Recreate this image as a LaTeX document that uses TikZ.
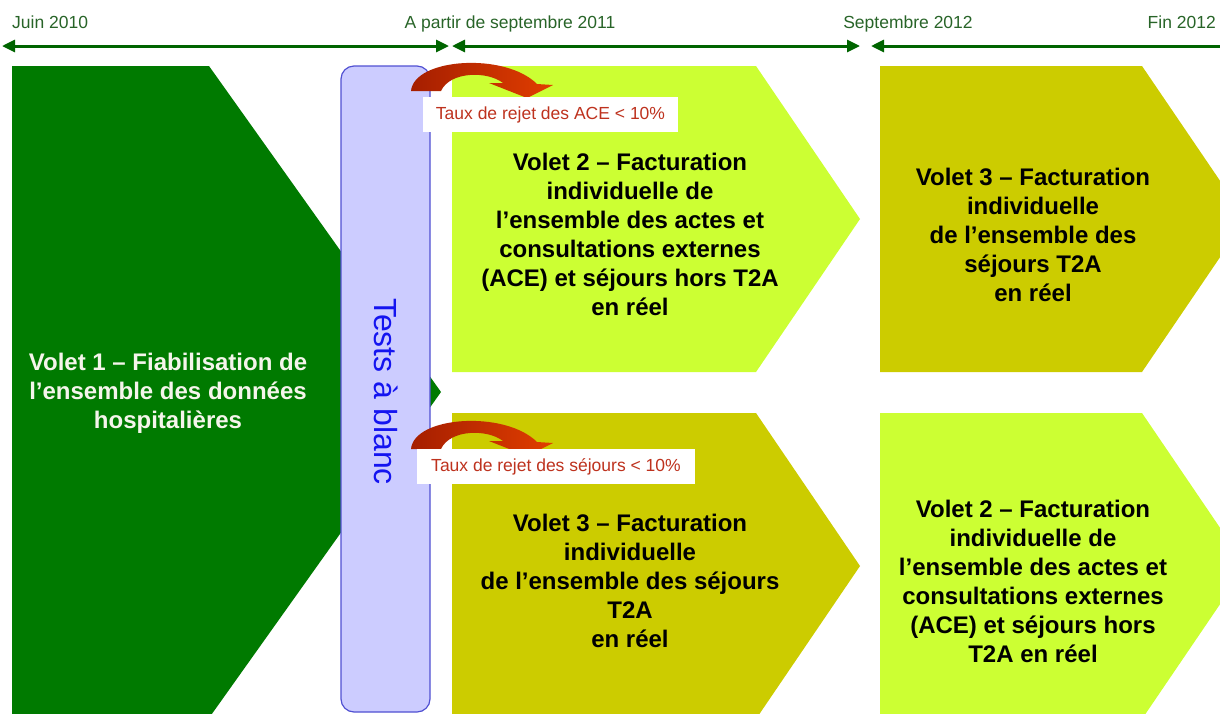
\documentclass[tikz,border=0pt]{standalone}
\usepackage{fontspec}
\setmainfont{Liberation Sans}
\usetikzlibrary{arrows.meta}
\definecolor{vgreen}{RGB}{0,122,0}
\definecolor{lgreen}{RGB}{204,255,51}
\definecolor{olivec}{RGB}{204,204,0}
\definecolor{testfill}{RGB}{204,204,255}
\definecolor{testdraw}{RGB}{80,80,210}
\definecolor{testtext}{RGB}{20,20,240}
\definecolor{tlgreen}{RGB}{0,100,0}
\definecolor{tltext}{RGB}{40,100,40}
\definecolor{rejtext}{RGB}{190,50,30}
\definecolor{arrdark}{RGB}{165,30,0}
\definecolor{arrlight}{RGB}{225,62,0}
\definecolor{v1text}{RGB}{245,245,235}
\begin{document}
\begin{tikzpicture}[x=1pt,y=-1pt,
  tl/.style={draw=tlgreen, line width=3pt, {Triangle[length=13pt,width=12pt]}-{Triangle[length=13pt,width=12pt]}},
  tllabel/.style={text=tltext, font=\fontsize{17.5}{20}\selectfont, inner sep=0pt},
  volet/.style={align=center, font=\fontsize{24}{29}\selectfont\bfseries, inner sep=0pt},
  rej/.style={fill=white, text=rejtext, font=\fontsize{17.5}{20}\selectfont, inner sep=0pt, minimum height=35pt},
  curvarr/.style={left color=arrdark, right color=arrlight, draw=none},
  testbox/.style={draw=testdraw, fill=testfill, rounded corners=13pt, line width=1.2pt}
]
\useasboundingbox (0,0) rectangle (1220,713);
\clip (0,0) rectangle (1220,713);

% timeline
\coordinate (t0) at (2,46);
\coordinate (t1) at (449,46);
\coordinate (t2) at (452,46);
\coordinate (t3) at (860,46);
\coordinate (t4) at (871,46);
\coordinate (t5) at (1233,46);
\draw[tl] (t0) -- (t1);
\draw[tl] (t2) -- (t3);
\draw[tl] (t4) -- (t5);
\node[tllabel, anchor=base west] (lj) at (12,28) {Juin 2010};
\node[tllabel, anchor=base] (la) at (510,28) {A partir de septembre 2011};
\node[tllabel, anchor=base] (ls) at (908,28) {Septembre 2012};
\node[tllabel, anchor=base east] (lf) at (1216,28) {Fin 2012};

% chevrons
\fill[vgreen] (12,66) -- (209,66) -- (441,392) -- (209,718) -- (12,718) -- cycle;
\fill[lgreen] (452,66) -- (756,66) -- (860,219) -- (756,372) -- (452,372) -- cycle;
\fill[olivec] (880,66) -- (1142,66) -- (1246,219) -- (1142,372) -- (880,372) -- cycle;
\fill[olivec] (452,413) -- (756,413) -- (860,566) -- (756,719) -- (452,719) -- cycle;
\fill[lgreen] (880,413) -- (1142,413) -- (1246,566) -- (1142,719) -- (880,719) -- cycle;

% tests box
\draw[testbox] (341,66) rectangle (430,712);
\node[rotate=-90, text=testtext, font=\fontsize{32}{36}\selectfont, inner sep=0pt] (tests) at (386.5,391.5) {Tests à blanc};

% curved arrows
\foreach \dy in {0,358} {
  \begin{scope}[shift={(0,\dy)}]
    \path[curvarr] (411,91) .. controls (414,58) and (505,52) .. (537,84)
      -- (553,85) -- (527,98) -- (489,83) -- (503,83)
      .. controls (488,71) and (450,71) .. (441,91) -- cycle;
  \end{scope}
}

% reject labels
\node[rej, minimum width=255pt] (rej1) at (550.5,114.5) {Taux de rejet des ACE < 10\%};
\node[rej, minimum width=278pt] (rej2) at (556,466.5) {Taux de rejet des séjours < 10\%};

% texts
\node[volet, text=v1text] (v1) at (168,393) {Volet 1 – Fiabilisation de\\l’ensemble des données\\hospitalières};
\node[volet] (v2top) at (630,234.5) {Volet 2 – Facturation\\individuelle de\\l’ensemble des actes et\\consultations externes\\(ACE) et séjours hors T2A\\en réel};
\node[volet] (v3top) at (1033,235) {Volet 3 – Facturation\\individuelle\\de l’ensemble des\\séjours T2A\\en réel};
\node[volet] (v3bot) at (630,581) {Volet 3 – Facturation\\individuelle\\de l’ensemble des séjours\\T2A\\en réel};
\node[volet] (v2bot) at (1033,581.5) {Volet 2 – Facturation\\individuelle de\\l’ensemble des actes et\\consultations externes\\(ACE) et séjours hors\\T2A en réel};
\end{tikzpicture}
\end{document}
